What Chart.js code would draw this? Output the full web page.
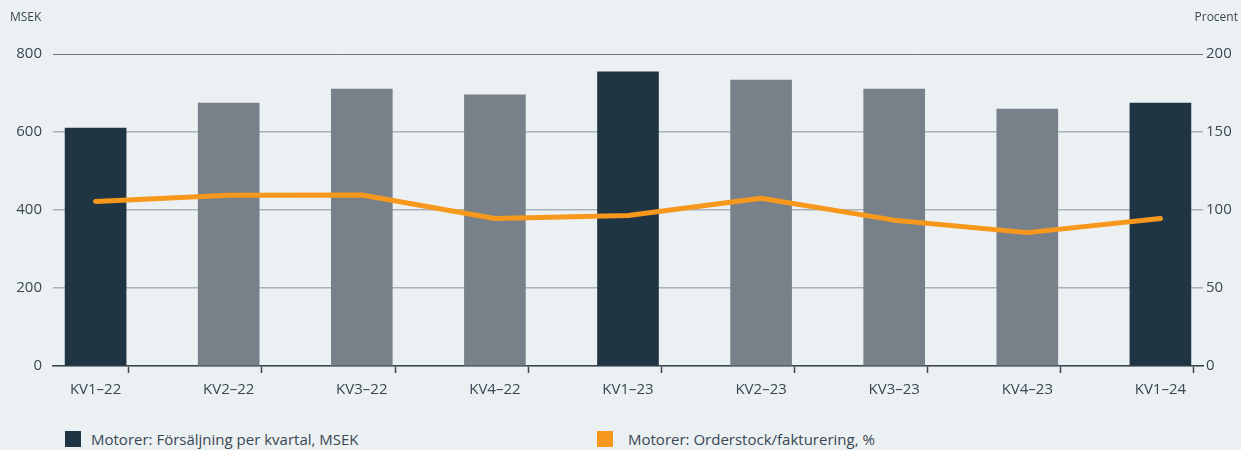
<!DOCTYPE html>
<html>
<head>
<meta charset="utf-8">
<script src="https://cdn.jsdelivr.net/npm/chart.js@4/dist/chart.umd.min.js"></script>
<style>
  html, body { margin: 0; padding: 0; background: #ebf0f3; }
  body { width: 1241px; height: 450px; position: relative; overflow: hidden;
         font-family: "Liberation Sans Narrow", "Open Sans", sans-serif; color: #3a4753; }
  #wrap { position: absolute; left: 0; top: 0; width: 1241px; height: 410px; }
  .unit { position: absolute; top: 8px; font-size: 12px; }
  #legend { position: absolute; top: 429px; left: 0; width: 1241px; font-size: 15px; }
  .item { position: absolute; top: 0; display: flex; align-items: center; }
  .sw { width: 16px; height: 16px; }
</style>
</head>
<body>
<div id="wrap"><canvas id="chart"></canvas></div>
<div class="unit" style="left:10px">MSEK</div>
<div class="unit" style="right:3px">Procent</div>
<div id="legend"></div>
<script>
// quarters on the x axis
const quarters = ['KV1\u201322', 'KV2\u201322', 'KV3\u201322', 'KV4\u201322', 'KV1\u201323', 'KV2\u201323', 'KV3\u201323', 'KV4\u201323', 'KV1\u201324'];
// sales per quarter, MSEK (left axis)
const salesMsek = [610, 674, 710, 695, 754, 733, 710, 659, 674];
// order stock / invoicing, % (right axis)
const orderRatio = [105.5, 109.4, 109.6, 94.5, 96.5, 107.5, 93.5, 85.5, 94.5];
// axis ticks
const leftTicks = [0, 200, 400, 600, 800];
const rightTicks = [0, 50, 100, 150, 200];

const DARK = '#203543';
const GREY = '#78818a';
const ORANGE = '#f7981d';
const TEXT = '#3a4753';
const FONT = '"Liberation Sans Narrow", "Open Sans", sans-serif';

const barColors = quarters.map(q => q.startsWith('KV1') ? DARK : GREY);

const ctx = document.getElementById('chart').getContext('2d');
const chart = new Chart(ctx, {
    data: {
        datasets: [
            {
                type: 'line',
                label: 'Motorer: Orderstock/fakturering, %',
                data: orderRatio.map((v, i) => ({ x: i, y: v })),
                yAxisID: 'y1',
                borderColor: ORANGE,
                backgroundColor: ORANGE,
                borderWidth: 5,
                borderCapStyle: 'round',
                borderJoinStyle: 'round',
                pointRadius: 0,
                tension: 0,
                order: 0
            },
            {
                type: 'bar',
                label: 'Motorer: Försäljning per kvartal, MSEK',
                data: salesMsek.map((v, i) => ({ x: i, y: v })),
                yAxisID: 'y',
                backgroundColor: barColors,
                legendColor: DARK,
                barThickness: 61,
                order: 1
            }
        ]
    },
    options: {
        responsive: true,
        maintainAspectRatio: false,
        animation: false,
        layout: { padding: { top: 54, left: 0, right: 0, bottom: 0 } },
        plugins: { legend: { display: false }, tooltip: { enabled: false } },
        scales: {
            x: {
                type: 'linear',
                offset: false,
                min: -0.32,
                max: 8.32,
                afterBuildTicks: s => {
                    const t = [];
                    for (let i = 0; i <= 16; i++) t.push({ value: i / 2 });
                    s.ticks = t;
                },
                afterFit: s => { s.height = 44; },
                ticks: {
                    autoSkip: false,
                    maxRotation: 0,
                    padding: 8,
                    color: TEXT,
                    font: { family: FONT, size: 15 },
                    callback: v => Number.isInteger(v) ? quarters[v] : ''
                },
                grid: {
                    drawOnChartArea: false,
                    drawTicks: true,
                    tickLength: 7,
                    tickWidth: 1.5,
                    tickColor: c => (c.tick && Number.isInteger(c.tick.value)) ? 'rgba(0,0,0,0)' : '#3b4650'
                },
                border: { color: '#3b4650', width: 1.5 }
            },
            y: {
                position: 'left',
                min: 0,
                max: 800,
                afterBuildTicks: s => { s.ticks = leftTicks.map(v => ({ value: v })); },
                afterFit: s => { s.width = 53; },
                ticks: { padding: 11, color: TEXT, font: { family: FONT, size: 15 } },
                grid: {
                    drawTicks: false,
                    color: c => c.tick.value === 800 ? '#6b7780' : '#aab2b9',
                    lineWidth: c => c.tick.value === 800 ? 1 : 1.5
                },
                border: { display: false }
            },
            y1: {
                position: 'right',
                min: 0,
                max: 200,
                afterBuildTicks: s => { s.ticks = rightTicks.map(v => ({ value: v })); },
                afterFit: s => { s.width = 38; },
                ticks: { padding: 3, color: TEXT, font: { family: FONT, size: 15 } },
                grid: { display: false, drawOnChartArea: false, drawTicks: false },
                border: { display: false }
            }
        }
    }
});

// html legend built from the datasets, placed under the bars
const legendEl = document.getElementById('legend');
const legendPos = [{ left: 65, gap: 10 }, { left: 597, gap: 15 }];
[chart.data.datasets[1], chart.data.datasets[0]].forEach((ds, i) => {
    const item = document.createElement('div');
    item.className = 'item';
    item.style.left = legendPos[i].left + 'px';
    const sw = document.createElement('span');
    sw.className = 'sw';
    sw.style.background = ds.legendColor || ds.borderColor;
    sw.style.marginRight = legendPos[i].gap + 'px';
    const txt = document.createElement('span');
    txt.textContent = ds.label;
    item.appendChild(sw);
    item.appendChild(txt);
    legendEl.appendChild(item);
});
</script>
</body>
</html>
